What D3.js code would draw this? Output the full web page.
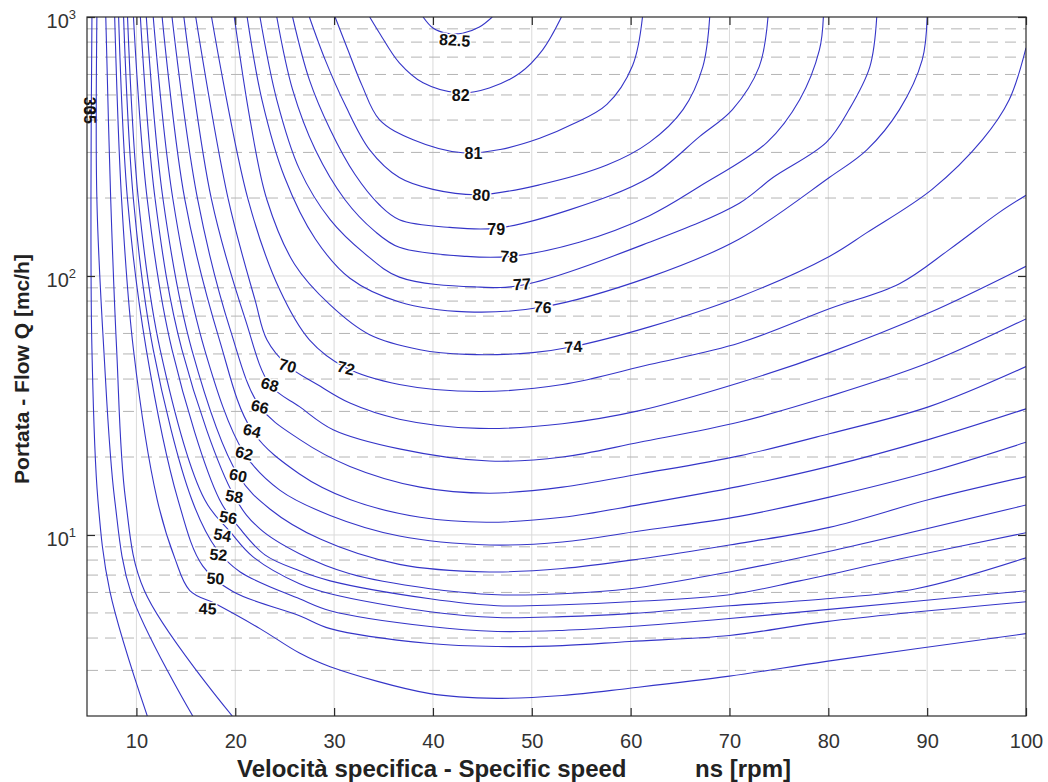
<!DOCTYPE html>
<html><head><meta charset="utf-8">
<script src="https://cdn.jsdelivr.net/npm/d3@7"></script>
<style>body{margin:0;background:#fff}svg{display:block}text{font-family:"Liberation Sans",Arial,sans-serif}</style>
</head><body><svg id="c" width="1048" height="782"></svg>
<script>
// ---------- data ----------
const xTicks = [10,20,30,40,50,60,70,80,90,100];
const yTicks = [10,100,1000];
const yTickExp = ["1","2","3"];
const yMinor = [3,4,5,6,7,8,9,20,30,40,50,60,70,80,90,200,300,400,500,600,700,800,900];
const levels = [30,35,40,45,50,52,54,56,58,60,62,64,66,68,70,72,74,76,77,78,79,80,81,82,82.5];

// contour polylines: [ns, Q]
const contour30 = [[5.5,1000],[5.4,197],[5.5,52],[6.1,13.7],[7.3,6.1],[11.1,2]];
const contour35 = [[6.0,1000],[6.0,197],[6.7,52],[7.8,13.7],[9.5,5.9],[15.7,2]];
const contour40 = [[6.9,1000],[7.4,197],[8.0,52],[8.9,13.7],[10.8,6.1],[19.7,2]];
const contour45 = [[7.8,1000],[8.5,197],[9.7,52],[12.1,13.7],[13.9,8.1],[15.4,6.1],[18.1,5.4],[22.5,4.35],[26.5,3.5],[29.6,3.1],[39.7,2.44],[46.5,2.34],[53.1,2.4],[59.9,2.56],[70,2.85],[79.8,3.25],[100,4.16]];
const contour50 = [[8.2,1000],[9.1,197],[11,52],[14.2,13.7],[16.7,7.6],[19.8,6.04],[26.5,4.88],[29.6,4.35],[39.7,3.81],[46.5,3.71],[53.1,3.74],[59.9,3.88],[70,4.09],[79.8,4.63],[100,5.52]];
const contour52 = [[8.7,1000],[9.7,197],[11.7,52],[15.6,13.7],[18.1,8.83],[20.5,7.2],[26.5,5.67],[29.6,5.1],[39.7,4.43],[46.5,4.24],[53.1,4.28],[59.9,4.43],[70,4.76],[79.8,5.15],[100,6.09]];
const contour54 = [[9.1,1000],[10.2,197],[12.4,52],[16.9,13.7],[19.5,10.27],[21.8,8.23],[26.5,6.48],[29.6,5.93],[39.7,5.05],[46.5,4.8],[53.1,4.84],[59.9,4.97],[70,5.33],[79.8,5.67],[88.9,6.2],[100,8.16]];
const contour56 = [[9.7,1000],[11.1,197],[13.6,52],[18.4,13.7],[20.5,10.55],[23,8.38],[26.5,7.27],[29.6,6.65],[39.7,5.67],[46.5,5.33],[53.1,5.38],[59.9,5.52],[70,5.88],[77.1,6.65],[87.2,8.08],[100,10.2]];
const contour58 = [[10.4,1000],[11.9,197],[14.6,52],[19.9,14.1],[22.5,10.55],[26.5,8.46],[31.6,7.08],[39.7,6.2],[46.5,5.88],[53.1,5.93],[59.9,6.2],[70,7.2],[79.8,8.6],[100,13.05]];
const contour60 = [[11,1000],[12.7,197],[15.6,52],[20.3,17],[23.5,12.6],[28.6,9.64],[36.6,7.7],[45.7,7.2],[53.1,7.42],[60.9,8.08],[70,9.15],[80.1,10.7],[90.2,13.7],[100,16.8]];
const contour62 = [[11.7,1000],[13.7,197],[16.9,52],[20.9,20.7],[24.5,14.9],[29.6,11.9],[36.6,9.91],[45.7,9.15],[53.1,9.4],[60.9,10.36],[71,11.8],[80.1,14],[90.2,17.5],[100,22.8]];
const contour64 = [[12.6,1000],[14.9,197],[18.4,56.7],[21.7,25.3],[26.5,17.2],[31.6,13.7],[38.7,11.7],[45.4,11.2],[53.1,11.7],[60.9,13.1],[71,15.4],[80.1,18.4],[90.2,23.4],[100,30.7]];
const contour66 = [[13.6,1000],[16.2,197],[19.5,61.9],[22.5,31.3],[26.5,23.4],[31.6,18.4],[38.7,15.3],[45.7,14.5],[53.1,15.3],[60.9,17.2],[71,20.2],[80.1,24.6],[90.2,31.3],[100,44.7]];
const contour68 = [[14.8,1000],[17.6,197],[21,68.3],[23.5,38.1],[26.5,31.3],[29.9,25.5],[36.6,21.5],[45.7,19.3],[53.1,20],[60.9,22.8],[71,27.3],[80.1,34.3],[90.2,46.3],[100,68.3]];
const contour70 = [[16,1000],[19.3,197],[22,80.8],[23.2,56.7],[25.3,45.1],[28.3,38.1],[31.6,32.3],[36.6,28.0],[44.7,25.8],[53.1,26.9],[60.9,30.2],[71,38.7],[80.1,50.6],[90.2,72.1],[100,109]];
const contour72 = [[17.6,1000],[21.3,197],[24.5,88.4],[27.5,56.7],[31.2,44.2],[36.6,38.1],[44.7,35.8],[53.1,38.1],[61.9,45.5],[71,55.1],[80.1,74.7],[87.2,93.4],[92.3,127],[97.3,176],[100,205]];
const contour74 = [[19.9,1000],[21.5,401],[23.2,197],[26,111],[29.6,77.3],[33.6,59.3],[38.7,51.9],[43.4,49.8],[50.1,50.6],[54.1,53.3],[61.9,63.6],[71,83],[80.1,119],[83.9,147],[90.5,216],[95.6,336],[98.3,479],[100,760]];
const contour76 = [[21.2,1000],[22.7,479],[25,240],[28.1,139],[31.6,98],[36.6,79.4],[43.4,72.7],[51.1,75.9],[61.9,99],[71,139],[80.1,240],[83.9,307],[87.2,439],[89.5,683],[90,1000]];
const contour77 = [[22.5,1000],[24.2,479],[26.5,258],[29.6,165],[33.1,122],[36.6,99],[44.4,90.7],[49.1,92.3],[61.9,135],[71,191],[74.4,240],[79.8,328],[82.1,439],[84.2,642],[84.9,1000]];
const contour78 = [[24.2,1000],[25.8,524],[28.1,307],[31.1,197],[34.1,149],[36.6,129],[43.4,119],[47.8,119],[54.8,135],[61.9,171],[67,222],[73.8,328],[77.1,479],[79.1,746],[79.5,1000]];
const contour79 = [[25.8,1000],[27.5,572],[29.6,368],[32.1,247],[34.6,188],[36.6,165],[41.7,154],[46.5,153],[53.8,180],[61.9,240],[67,346],[70.3,439],[73,642],[73.9,1000]];
const contour80 = [[27.5,1000],[29.1,683],[31.1,459],[33.6,307],[36.6,240],[40,216],[44.7,206],[50.8,225],[57.6,268],[61.9,328],[65.3,439],[67.3,642],[68,1000]];
const contour81 = [[30.1,1000],[31.4,746],[32.8,547],[34.6,401],[38,336],[43,299],[46.8,308],[50.8,340],[54.1,385],[57.6,460],[60.2,650],[61.2,1000]];
const contour82 = [[33.6,1000],[34.6,866],[36.6,665],[39.0,557],[42.7,509],[45.7,532],[48.8,608],[51.1,747],[53.0,1000]];
const contour82_5 = [[39.0,1000],[40.0,907],[41.4,866],[43.0,866],[44.7,915],[46.0,1000]];

// contour labels
const labelText = ["82.5","82","81","80","79","78","77","76","74","72","70","68","66","64","62","60","58","56","54","52","50","45","30","35"];
const labelNs   = [42.2,42.8,44.1,44.9,46.4,47.7,49.0,51.1,54.2,31.2,25.3,23.5,22.5,21.7,20.9,20.3,19.9,19.3,18.7,18.3,18.0,17.2,5.3,5.3];
const labelQ    = [815,501,299,206,151,119,93.1,75.9,53.4,44.2,45.1,38.1,31.3,25.3,20.7,17.0,14.1,11.7,10.0,8.4,6.8,5.2,455,418];

const xTitleParts = ["Velocità specifica - Specific speed", "ns [rpm]"];
const yTitle = "Portata - Flow Q [mc/h]";

// ---------- drawing ----------
const contours = [contour30,contour35,contour40,contour45,contour50,contour52,contour54,contour56,contour58,contour60,contour62,contour64,contour66,contour68,contour70,contour72,contour74,contour76,contour77,contour78,contour79,contour80,contour81,contour82,contour82_5];
const labelRot = [4,0,0,4,0,4,-3,5,-4,14,16,16,14,14,14,12,10,10,10,6,4,2,90,90];

const svg = d3.select("#c");
const X0=87, X1=1026, Y0=17, Y1=716;
const x = d3.scaleLinear().domain([5,100]).range([X0,X1]);
const y = d3.scaleLog().domain([2,1000]).range([Y1,Y0]);
const FONT = "'Liberation Sans', Arial, sans-serif";

svg.append("rect").attr("width",1048).attr("height",782).attr("fill","#fff");
svg.append("defs").append("clipPath").attr("id","clip")
  .append("rect").attr("x",X0).attr("y",Y0).attr("width",X1-X0).attr("height",Y1-Y0);

// grid
const grid = svg.append("g");
grid.selectAll("line.gx").data(xTicks.filter(d=>d<100)).join("line").attr("class","gx")
  .attr("x1",d=>x(d)).attr("x2",d=>x(d)).attr("y1",Y0).attr("y2",Y1)
  .attr("stroke","#dadada").attr("stroke-width",1);
grid.selectAll("line.gy").data(yTicks.filter(d=>d<1000)).join("line").attr("class","gy")
  .attr("x1",X0).attr("x2",X1).attr("y1",d=>y(d)).attr("y2",d=>y(d))
  .attr("stroke","#dadada").attr("stroke-width",1);
grid.selectAll("line.gm").data(yMinor).join("line").attr("class","gm")
  .attr("x1",X0).attr("x2",X1).attr("y1",d=>y(d)).attr("y2",d=>y(d))
  .attr("stroke","#b4b4b4").attr("stroke-width",1).attr("stroke-dasharray","11,7");

// contour lines
const line = d3.line().x(d=>x(d[0])).y(d=>y(d[1])).curve(d3.curveCatmullRom.alpha(0.5));
svg.append("g").attr("clip-path","url(#clip)")
  .selectAll("path").data(contours).join("path")
  .attr("d",line).attr("fill","none").attr("stroke","#3535c8").attr("stroke-width",1.1);

// contour labels
svg.append("g").selectAll("text").data(labelText).join("text")
  .attr("transform",(d,i)=>`translate(${x(labelNs[i])},${y(labelQ[i])}) rotate(${labelRot[i]})`)
  .attr("text-anchor","middle").attr("dy","0.36em")
  .attr("font-family",FONT).attr("font-size",16).attr("font-weight","bold").attr("fill","#111")
  .attr("stroke","#fff").attr("stroke-width",(d,i)=>labelRot[i]===90?0:3).attr("paint-order","stroke")
  .text(d=>d);

// frame
svg.append("rect").attr("x",X0).attr("y",Y0).attr("width",X1-X0).attr("height",Y1-Y0)
  .attr("fill","none").attr("stroke","#2a2a2a").attr("stroke-width",1.2);

// axes
function styleAxis(g){
  g.select(".domain").remove();
  g.selectAll(".tick line").attr("stroke","#2a2a2a").attr("stroke-width",1.2);
  g.attr("font-family",FONT).attr("font-size",20);
  g.selectAll(".tick text").attr("fill","#333");
}
svg.append("g").attr("transform",`translate(0,${Y1})`)
  .call(d3.axisBottom(x).tickValues(xTicks).tickSize(-8).tickPadding(18).tickFormat(d3.format("d"))).call(styleAxis);
svg.append("g").attr("transform",`translate(0,${Y0})`)
  .call(d3.axisTop(x).tickValues(xTicks).tickSize(-8).tickFormat("")).call(styleAxis);
svg.append("g").attr("transform",`translate(${X0},0)`)
  .call(d3.axisLeft(y).tickValues(yTicks).tickSize(-8).tickFormat("")).call(styleAxis);
svg.append("g").attr("transform",`translate(${X1},0)`)
  .call(d3.axisRight(y).tickValues(yTicks).tickSize(-8).tickFormat("")).call(styleAxis);

// y tick labels with exponent
const yl = svg.append("g").selectAll("text").data(yTicks).join("text")
  .attr("x",76).attr("y",d=>y(d)+11).attr("text-anchor","end")
  .attr("font-family",FONT).attr("font-size",20).attr("fill","#333");
yl.append("tspan").text("10");
yl.append("tspan").attr("dy",-9).attr("font-size",13).text((d,i)=>yTickExp[i]);

// titles
const xt = svg.append("text").attr("y",777)
  .attr("font-family",FONT).attr("font-size",24).attr("font-weight","bold").attr("fill","#222");
xt.append("tspan").attr("x",237).text(xTitleParts[0]);
xt.append("tspan").attr("x",695).text(xTitleParts[1]);
svg.append("text").attr("transform",`translate(29,369) rotate(-90)`).attr("text-anchor","middle")
  .attr("font-family",FONT).attr("font-size",21).attr("font-weight","bold").attr("fill","#222")
  .text(yTitle);
</script></body></html>
